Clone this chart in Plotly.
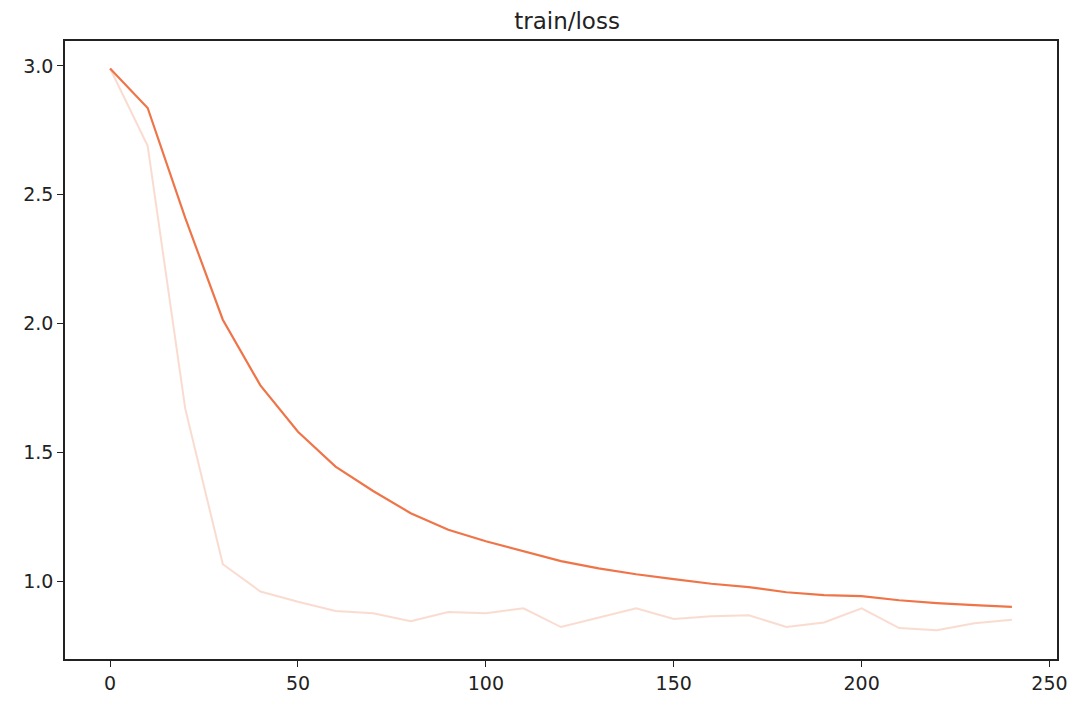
import plotly.graph_objects as go

steps = [0, 10, 20, 30, 40, 50, 60, 70, 80, 90, 100, 110, 120,
         130, 140, 150, 160, 170, 180, 190, 200, 210, 220, 230, 240]

loss_raw = [2.99, 2.69, 1.67, 1.066, 0.96, 0.92, 0.884, 0.876, 0.845, 0.88,
            0.876, 0.895, 0.822, 0.86, 0.895, 0.853, 0.864, 0.868, 0.822,
            0.84, 0.895, 0.818, 0.81, 0.837, 0.85]

loss_smooth = [2.99, 2.837, 2.41, 2.015, 1.76, 1.58, 1.445, 1.35, 1.264, 1.20,
               1.155, 1.116, 1.078, 1.05, 1.027, 1.008, 0.99, 0.977, 0.957,
               0.946, 0.942, 0.926, 0.915, 0.907, 0.90]

ORANGE = "#ef7549"

fig = go.Figure()
fig.add_trace(go.Scatter(
    x=steps, y=loss_raw,
    mode="lines",
    line=dict(color=ORANGE, width=2),
    opacity=0.25,
    name="raw",
))
fig.add_trace(go.Scatter(
    x=steps, y=loss_smooth,
    mode="lines",
    line=dict(color=ORANGE, width=2.2),
    name="smoothed",
))

axis_style = dict(
    showline=True,
    linecolor="#222222",
    linewidth=1.5,
    mirror=True,
    showgrid=False,
    zeroline=False,
    ticks="outside",
    ticklen=6,
    tickwidth=1.3,
    tickcolor="#222222",
    tickfont=dict(family="DejaVu Sans", size=19, color="#222222"),
)

# page body adds an 8px margin, so the figure is sized to fit inside it
fig.update_layout(
    width=1072,
    height=698,
    margin=dict(l=57, r=19, t=33, b=46),
    paper_bgcolor="white",
    plot_bgcolor="white",
    showlegend=False,
    title=dict(
        text="train/loss",
        x=0.5215,
        xanchor="center",
        y=0.981,
        yanchor="middle",
        font=dict(family="DejaVu Sans", size=23, color="#222222"),
    ),
    xaxis=dict(range=[-12, 252], tickvals=[0, 50, 100, 150, 200, 250], **axis_style),
    yaxis=dict(range=[0.698, 3.097], tickvals=[1.0, 1.5, 2.0, 2.5, 3.0],
               tickformat=".1f", **axis_style),
)

fig.write_html("out.html")
